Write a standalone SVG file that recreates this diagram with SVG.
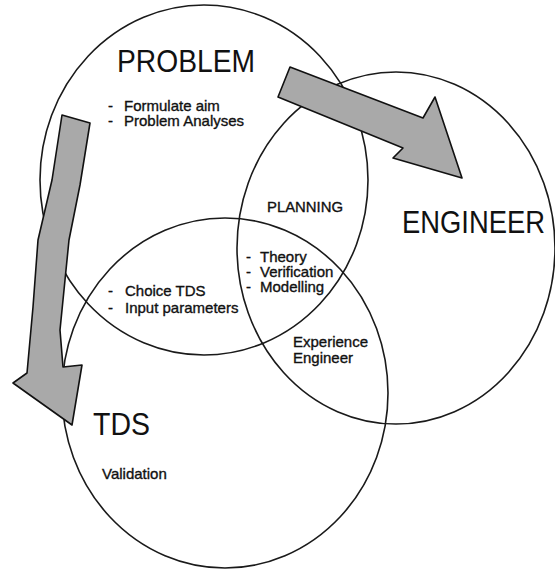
<svg xmlns="http://www.w3.org/2000/svg" width="555" height="569" viewBox="0 0 555 569">
  <style>
    .ring { fill: none; stroke: #1a1a1a; stroke-width: 1.6; }
    .arrow { fill: #a9a9a9; stroke: #111; stroke-width: 1.6; stroke-linejoin: round; }
    text { font-family: "Liberation Sans", Arial, sans-serif; fill: #111; }
    .big { font-size: 31px; }
    .small { font-size: 15px; stroke: #111; stroke-width: 0.35; }
  </style>
  <rect width="555" height="569" fill="#ffffff"/>
  <g id="problem">
    <ellipse class="ring" cx="204" cy="180" rx="164" ry="175"/>
    <text class="big" x="117" y="72" textLength="138" lengthAdjust="spacingAndGlyphs">PROBLEM</text>
    <text class="small" x="108" y="111">-<tspan x="124">Formulate aim</tspan></text>
    <text class="small" x="108" y="126">-<tspan x="124">Problem Analyses</tspan></text>
  </g>
  <g id="engineer">
    <ellipse class="ring" cx="396" cy="248" rx="159" ry="176"/>
    <text class="big" x="402" y="233" textLength="143" lengthAdjust="spacingAndGlyphs">ENGINEER</text>
  </g>
  <g id="tds">
    <ellipse class="ring" cx="225" cy="393" rx="163" ry="175"/>
    <text class="big" x="93" y="435" textLength="57" lengthAdjust="spacingAndGlyphs">TDS</text>
    <text class="small" x="102" y="479">Validation</text>
  </g>
  <g id="planning">
    <text class="small" x="267" y="212" textLength="76" lengthAdjust="spacingAndGlyphs">PLANNING</text>
  </g>
  <g id="core">
    <text class="small" x="246" y="262">-<tspan x="260">Theory</tspan></text>
    <text class="small" x="246" y="277">-<tspan x="260">Verification</tspan></text>
    <text class="small" x="246" y="292">-<tspan x="260">Modelling</tspan></text>
  </g>
  <g id="choice">
    <text class="small" x="108" y="296">-<tspan x="125">Choice TDS</tspan></text>
    <text class="small" x="108" y="313">-<tspan x="125">Input parameters</tspan></text>
  </g>
  <g id="experience">
    <text class="small" x="293" y="347">Experience</text>
    <text class="small" x="293" y="363">Engineer</text>
  </g>
  <g id="connectors">
    <polygon id="arrow-problem-engineer" class="arrow" points="290,67 423,118 435,97 462,178 393,158 403,148 278,97"/>
    <polygon id="arrow-problem-tds" class="arrow" points="62,115 90,123 80,185 69,240 60,330 63,367 82,365 72,425 13,383 27,373 33,307 38,240 52,180"/>
  </g>
</svg>
